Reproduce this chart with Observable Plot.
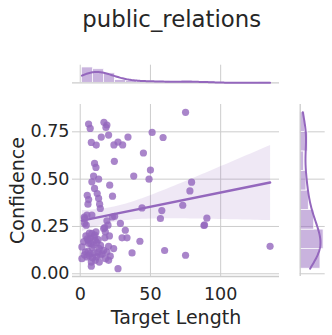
<!DOCTYPE html>
<html><head><meta charset="utf-8">
<script src="https://cdn.jsdelivr.net/npm/d3@7"></script>
<script src="https://cdn.jsdelivr.net/npm/@observablehq/plot@0.6"></script>
<style>
body{margin:0;background:#fff;font-family:"DejaVu Sans",sans-serif;}
#wrap{position:relative;width:332px;height:335px;overflow:hidden;background:#fff}
#title{position:absolute;left:171.7px;top:7.5px;transform:translateX(-50%);white-space:nowrap;font-size:22.8px;line-height:22.8px;color:#262626}
.panel{position:absolute}
.panel svg{display:block}
</style></head>
<body><div id="wrap"><div id="title"></div>
<div id="topPanel" class="panel" style="left:0;top:50px"></div>
<div id="mainPanel" class="panel" style="left:0;top:95px"></div>
<div id="rightPanel" class="panel" style="left:290px;top:95px"></div></div>
<script>
const title = "public_relations";
const xLabel = "Target Length";
const yLabel = "Confidence";
const xTicks = [0, 50, 100];
const yTicks = [0, 0.25, 0.5, 0.75];
const xBins = 17, yBins = 8;

const targetLength = [75,51.2,59,45,50,49,79.3,78.1,44,73,58.1,57.1,90.2,88.1,88.5,42.5,60.1,75,135.2,
 5.95,7.1,16.9,19,18.3,15,20.2,7.9,11.4,24,26.9,30.2,34,24.3,10.2,11.2,38.1,9.5,13.1,8.3,21,10.2,12.1,5,23,
 13.1,5.5,13.8,14.3,4.8,8.3,3.1,3.1,19,24.5,28.6,17.4,19.8,17.9,32.1,8.3,11.2,7.1,10.7,5.9,9.5,29.8,33.3,
 1.2,20.2,23.8,13.6,16.7,3.6,7.1,19,36.9,21.4,14.3,4.8,10.7,7.9,13.6,20.2,7.9,26.9,1.2,5.9,4.3,2.9,6,16.7,22.9,
 3.0,5.5,6.5,8.8,10.0,11.5,12.5,15.5,18.0,2.5,4.0,5.0,6.5,7.5,8.5,9.8,10.5,11.8,12.8,14.5,17.5,20.8];
const confidence = [0.853,0.747,0.72,0.638,0.548,0.50,0.484,0.438,0.348,0.362,0.334,0.292,0.294,0.255,0.258,0.172,0.123,0.098,0.145,
 0.791,0.768,0.80,0.786,0.773,0.722,0.733,0.694,0.68,0.681,0.696,0.681,0.722,0.594,0.583,0.562,0.516,0.516,0.50,0.486,0.468,0.451,0.424,0.415,0.41,
 0.398,0.368,0.368,0.345,0.31,0.31,0.292,0.266,0.28,0.304,0.266,0.244,0.257,0.221,0.23,0.213,0.221,0.186,0.177,0.16,0.151,0.19,0.19,
 0.142,0.145,0.133,0.133,0.124,0.115,0.107,0.115,0.11,0.093,0.098,0.089,0.071,0.062,0.062,0.071,0.04,0.027,0.08,0.177,0.257,0.30,0.392,0.239,0.30,
 0.10,0.12,0.095,0.085,0.11,0.09,0.115,0.105,0.08,0.17,0.20,0.185,0.215,0.16,0.14,0.195,0.205,0.165,0.18,0.15,0.19,0.2];

document.getElementById("title").textContent = title;

const color = "#9467bd", gridColor = "#cccccc", ink = "#262626";
const pts = targetLength.map((x, i) => ({x, y: confidence[i]}));
const [x0, x1] = d3.extent(targetLength), [y0, y1] = d3.extent(confidence);
const pad = (a, b) => [a - (b - a) * 0.05, b + (b - a) * 0.05];
const xDom = pad(x0, x1), yDom = pad(y0, y1);
const style = {fontFamily: "DejaVu Sans", fontSize: "17px", color: ink, background: "transparent"};

function bins(values, lo, hi, n) {
  const thr = d3.range(1, n).map(i => lo + i * (hi - lo) / n);
  return d3.bin().domain([lo, hi]).thresholds(thr)(values);
}
function kde(values, binWidth, n = 200) {
  const m = values.length, bw = d3.deviation(values) * Math.pow(m, -0.2);
  const [a, b] = d3.extent(values);
  return d3.range(n).map(i => {
    const t = a + (b - a) * i / (n - 1);
    const dens = d3.sum(values, v => Math.exp(-0.5 * ((t - v) / bw) ** 2)) / (m * bw * Math.sqrt(2 * Math.PI));
    return {t, c: dens * m * binWidth};
  });
}

const xHist = bins(targetLength, x0, x1, xBins);
const yHist = bins(confidence, y0, y1, yBins);
const xMax = d3.max(xHist, b => b.length), yMax = d3.max(yHist, b => b.length);
const xKde = kde(targetLength, (x1 - x0) / xBins);
const yKde = kde(confidence, (y1 - y0) / yBins);

const mainChart = Plot.plot({
  width: 290, height: 240, marginLeft: 72, marginRight: 11, marginTop: 9, marginBottom: 59,
  style,
  x: {domain: xDom, axis: null}, y: {domain: yDom, axis: null},
  marks: [
    Plot.gridX(xTicks, {stroke: gridColor, strokeOpacity: 1, strokeWidth: 1}),
    Plot.gridY(yTicks, {stroke: gridColor, strokeOpacity: 1, strokeWidth: 1}),
    Plot.ruleY([yDom[0]], {stroke: gridColor, strokeWidth: 1.3}),
    Plot.axisX(xTicks, {tickSize: 0, tickPadding: 11.5, label: null, fontSize: 17.5}),
    Plot.axisY(yTicks, {tickSize: 0, tickPadding: 3, tickFormat: d3.format(".2f"), label: null, fontSize: 17.5}),
    Plot.dot(pts, {x: "x", y: "y", r: 3.6, fill: color, fillOpacity: 0.8, stroke: "none"}),
    Plot.linearRegressionY(pts, {x: "x", y: "y", stroke: color, strokeWidth: 2.5, fill: color, fillOpacity: 0.15}),
    Plot.text([xLabel], {text: d => d, frameAnchor: "bottom", dy: 41, lineAnchor: "middle", textAnchor: "middle", fontSize: 19, fill: ink}),
    Plot.text([yLabel], {text: d => d, frameAnchor: "left", dx: -55, rotate: -90, lineAnchor: "middle", textAnchor: "middle", fontSize: 19, fill: ink})
  ]
});
document.getElementById("mainPanel").append(mainChart);

const topChart = Plot.plot({
  width: 290, height: 36, marginLeft: 72, marginRight: 11, marginTop: 14.7, marginBottom: 3.7,
  style,
  x: {domain: xDom, axis: null}, y: {domain: [0, xMax * 1.15], axis: null},
  marks: [
    Plot.gridX(xTicks, {stroke: gridColor, strokeOpacity: 1, strokeWidth: 1}),
    Plot.rectY(xHist, {x1: "x0", x2: "x1", y: d => d.length, fill: color, fillOpacity: 0.5, stroke: "white", strokeWidth: 0.7, inset: 0}),
    Plot.ruleY([0], {stroke: gridColor, strokeWidth: 1.3}),
    Plot.line(xKde, {x: "t", y: "c", stroke: color, strokeWidth: 2})
  ]
});
document.getElementById("topPanel").append(topChart);

const rightChart = Plot.plot({
  width: 42, height: 240, marginLeft: 9.7, marginRight: 7.3, marginTop: 9, marginBottom: 59,
  style,
  x: {domain: [0, yMax * 1.07], axis: null}, y: {domain: yDom, axis: null},
  marks: [
    Plot.gridY(yTicks, {stroke: gridColor, strokeOpacity: 1, strokeWidth: 1}),
    Plot.rectX(yHist, {y1: "x0", y2: "x1", x: d => d.length, fill: color, fillOpacity: 0.5, stroke: "white", strokeWidth: 0.7, inset: 0}),
    Plot.ruleX([0], {stroke: gridColor, strokeWidth: 1.3}),
    Plot.line(yKde, {x: "c", y: "t", stroke: color, strokeWidth: 2})
  ]
});
document.getElementById("rightPanel").append(rightChart);
</script>
</body></html>
